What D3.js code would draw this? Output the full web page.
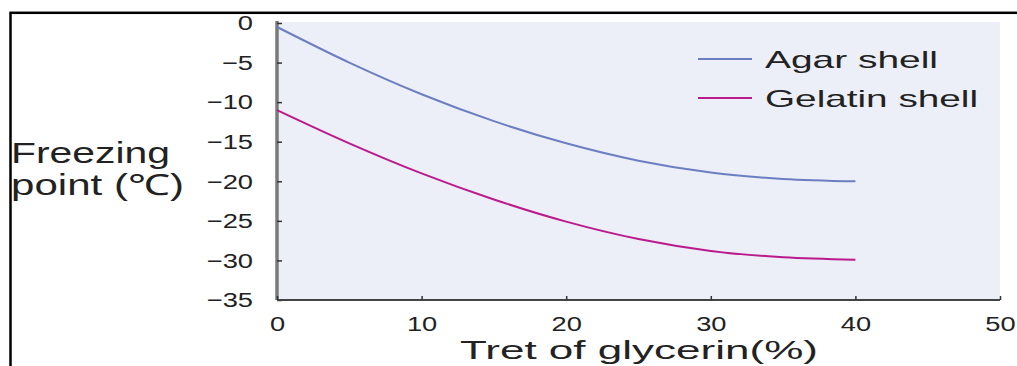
<!DOCTYPE html>
<html><head><meta charset="utf-8">
<script src="https://cdn.jsdelivr.net/npm/d3@7"></script>
<style>
html,body{margin:0;padding:0;background:#fff;overflow:hidden}
svg{display:block}
text{font-family:"Liberation Sans",Arial,sans-serif;fill:#222}
</style></head>
<body>
<svg id="chart" width="1017" height="366"></svg>
<script>
// ---- data ----
const glycerin = [0, 5, 10, 15, 20, 25, 30, 35, 40];
const agarShell = [-0.5, -5.0, -9.0, -12.4, -15.2, -17.4, -18.9, -19.7, -20.0];
const gelatinShell = [-11.0, -15.2, -19.0, -22.3, -25.1, -27.3, -28.8, -29.6, -29.9];
const seriesNames = ["Agar shell", "Gelatin shell"];
const seriesColors = ["#6c7ec2", "#bb1a8c"];
const xTicks = [0, 10, 20, 30, 40, 50];
const yTicks = [0, -5, -10, -15, -20, -25, -30, -35];
const xTitle = "Tret of glycerin(%)";
const yTitleLines = ["Freezing", "point (℃)"];

const svg = d3.select("#chart");
const L = 277, R = 1000, T = 23, B = 300;
const x = d3.scaleLinear().domain([0, 50]).range([L, R]);
const y = d3.scaleLinear().domain([0, -35]).range([T, B]);

// outer frame
svg.append("rect").attr("x", 10.5).attr("y", 12.8).attr("width", 1100).attr("height", 500)
  .attr("fill", "none").attr("stroke", "#000").attr("stroke-width", 2.5);

// plot background
svg.append("rect").attr("x", L + 1).attr("y", T - 1).attr("width", R - L - 1).attr("height", B - T + 1)
  .attr("fill", "#eceff7");

const sx = 1.3; // horizontal stretch of reference type

// y axis
const gy = svg.append("g").attr("transform", `translate(${L},0)`)
  .call(d3.axisLeft(y).tickValues(yTicks).tickSize(-5).tickPadding(0).tickFormat(d3.format("d")));
gy.select(".domain").attr("stroke", "#7a7a7a").attr("stroke-width", 3.5).attr("d", `M0,${T - 2}V${B}`);
gy.selectAll(".tick line").attr("stroke", "#333").attr("stroke-width", 1.5);
gy.selectAll(".tick text").attr("x", -24 / sx).attr("transform", `scale(${sx},1)`)
  .attr("font-size", 21).attr("fill", "#222").attr("font-family", "Liberation Sans, Arial, sans-serif");

// x axis
const gx = svg.append("g").attr("transform", `translate(0,${B})`)
  .call(d3.axisBottom(x).tickValues(xTicks).tickSize(-4).tickPadding(0).tickFormat(d3.format("d")));
gx.select(".domain").attr("stroke", "#444").attr("stroke-width", 2).attr("d", `M${L},0H${R}`);
gx.selectAll(".tick line").attr("stroke", "#333").attr("stroke-width", 1.5);
gx.selectAll(".tick text").attr("x", 0).attr("y", 16).attr("transform", `scale(${sx},1)`)
  .attr("font-size", 21).attr("fill", "#222").attr("font-family", "Liberation Sans, Arial, sans-serif");

// series
const line = d3.line().x((d, i) => x(glycerin[i])).y(d => y(d)).curve(d3.curveMonotoneX);
[agarShell, gelatinShell].forEach((vals, k) => {
  svg.append("path").datum(vals).attr("d", line).attr("fill", "none")
    .attr("stroke", seriesColors[k]).attr("stroke-width", 2);
});

// legend
const legend = svg.append("g");
const legY = [59, 98];
const legW = [173, 213];
seriesNames.forEach((n, k) => {
  legend.append("line").attr("x1", 698).attr("x2", 752).attr("y1", legY[k]).attr("y2", legY[k])
    .attr("stroke", seriesColors[k]).attr("stroke-width", 2);
  legend.append("text").attr("x", 765).attr("y", legY[k] + 9).attr("font-size", 24)
    .attr("textLength", legW[k]).attr("lengthAdjust", "spacingAndGlyphs").text(n);
});

// axis titles
svg.append("text").attr("x", 460).attr("y", 359).attr("font-size", 25)
  .attr("textLength", 358).attr("lengthAdjust", "spacingAndGlyphs").text(xTitle);
const yW = [159, 173];
yTitleLines.forEach((t, k) => {
  svg.append("text").attr("x", 11).attr("y", 163 + k * 32).attr("font-size", 29)
    .attr("textLength", yW[k]).attr("lengthAdjust", "spacingAndGlyphs").text(t);
});
</script>
</body></html>
